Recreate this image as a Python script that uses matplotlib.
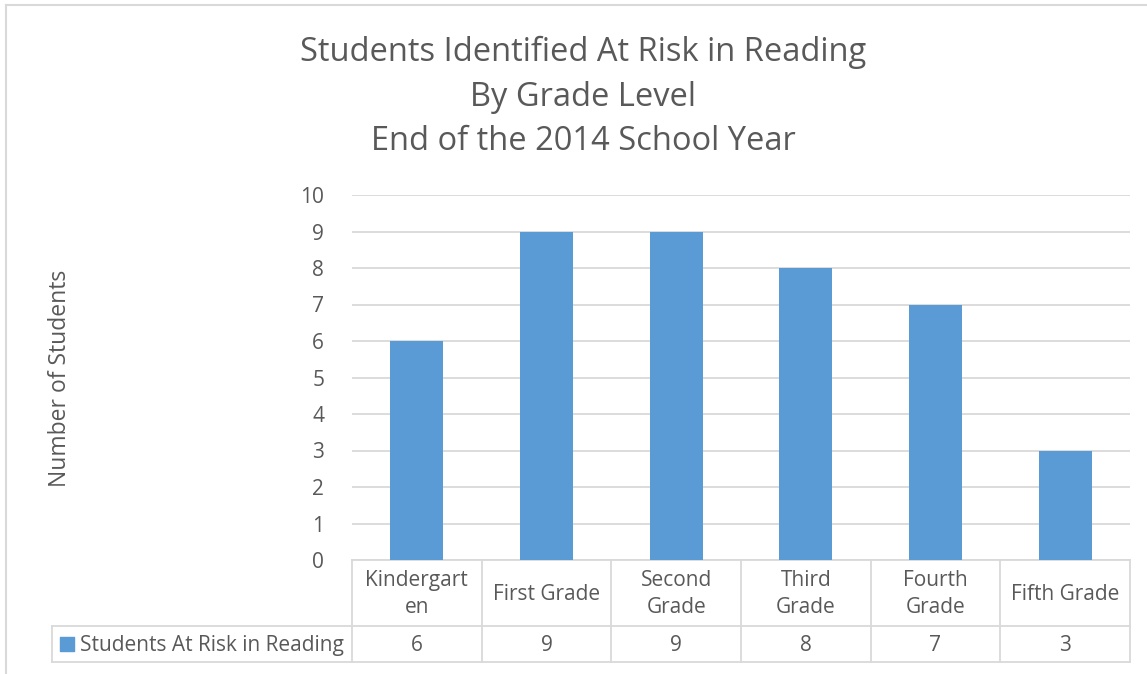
import matplotlib.pyplot as plt

# chart data
grades = ['Kindergart\nen', 'First Grade', 'Second\nGrade', 'Third\nGrade', 'Fourth\nGrade', 'Fifth Grade']
at_risk = [6, 9, 9, 8, 7, 3]
series_name = 'Students At Risk in Reading'
title = 'Students Identified At Risk in Reading\nBy Grade Level\nEnd of the 2014 School Year'

plt.rcParams['font.family'] = ['Open Sans', 'DejaVu Sans']
txt = '#595959'
line_c = '#d9d9d9'
bar_c = '#5b9bd5'

fig = plt.figure(figsize=(11.47, 6.74), dpi=100)
fig.set_facecolor('white')

# outer chart border (left and top visible)
fig.add_artist(plt.Line2D([6/1147, 6/1147], [0, 1 - 5/674], color=line_c, lw=1.5))
fig.add_artist(plt.Line2D([6/1147, 1], [1 - 5/674, 1 - 5/674], color=line_c, lw=1.5))

ax = fig.add_axes([352/1147, 1 - 560/674, 778/1147, 365/674])
x = list(range(len(grades)))
ax.bar(x, at_risk, width=0.41, color=bar_c, zorder=3)
ax.set_xlim(-0.5, len(grades) - 0.5)
ax.set_ylim(0, 10)
ax.set_yticks(range(0, 11))
ax.yaxis.grid(True, color=line_c, lw=1.3, zorder=0)
ax.tick_params(axis='y', length=0, pad=20, labelsize=15, labelcolor=txt)
ax.set_xticks([])
for s in ['top', 'right', 'left']:
    ax.spines[s].set_visible(False)
ax.spines['bottom'].set_color(line_c)
ax.spines['bottom'].set_linewidth(1.3)

# data table below the axis
row1 = -1.81
row2 = -2.79
left = -2.81
kw = dict(color=line_c, lw=1.3, clip_on=False)
for b in [i - 0.5 for i in range(len(grades) + 1)]:
    ax.plot([b, b], [0, row2], **kw)
ax.plot([left, len(grades) - 0.5], [row1, row1], **kw)
ax.plot([left, len(grades) - 0.5], [row2, row2], **kw)
ax.plot([left, left], [row1, row2], **kw)

for i, g in enumerate(grades):
    ax.text(i, row1 / 2 - 0.03, g, ha='center', va='center', fontsize=15, color=txt,
            linespacing=1.35, clip_on=False)
    ax.text(i, (row1 + row2) / 2 - 0.05, str(at_risk[i]), ha='center', va='center',
            fontsize=15, color=txt, clip_on=False)

ax.scatter([left + 0.11], [(row1 + row2) / 2], marker='s', s=90, color=bar_c, clip_on=False)
ax.text(left + 0.21, (row1 + row2) / 2 - 0.05, series_name, ha='left', va='center',
        fontsize=15, color=txt, clip_on=False)

fig.text(60/1147, 1 - 378/674, 'Number of Students', rotation=90, ha='center', va='center',
         fontsize=16.5, color=txt)
fig.text(583/1147, 1 - 97/674, title, ha='center', va='center', fontsize=23.5, color=txt,
         linespacing=1.46)

fig.savefig('out.png', dpi=100)
